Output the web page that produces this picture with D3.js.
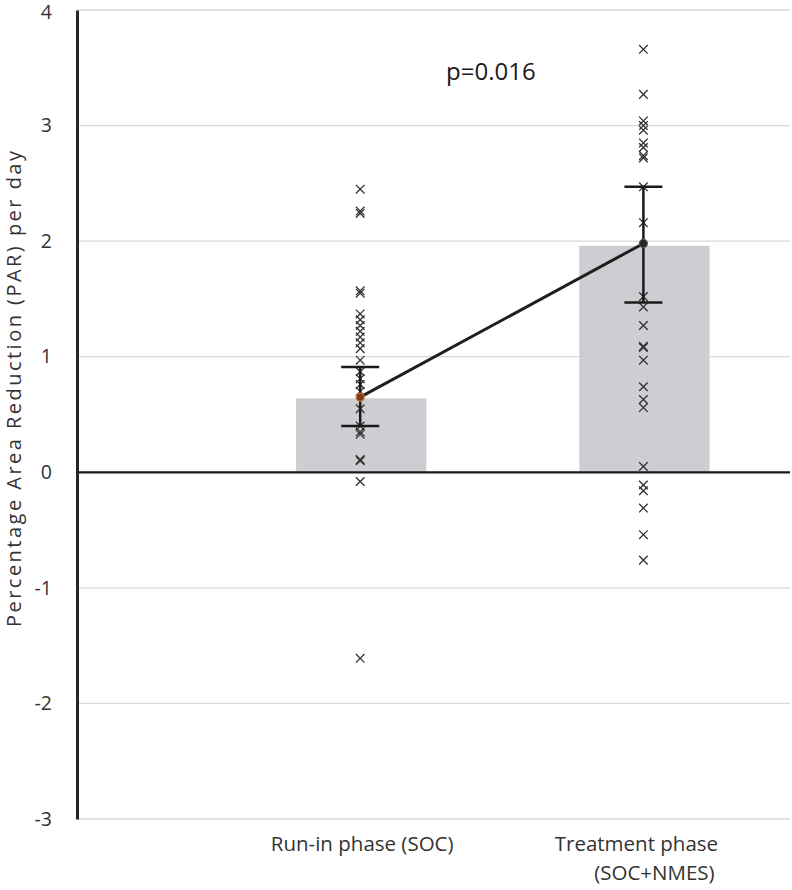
<!DOCTYPE html>
<html>
<head>
<meta charset="utf-8">
<script src="https://cdn.jsdelivr.net/npm/d3@7"></script>
<style>
  html, body { margin: 0; padding: 0; background: #fff; }
  svg { display: block; font-family: "Open Sans", "Noto Sans", sans-serif; }
</style>
</head>
<body>
<svg id="chart" width="792" height="890"></svg>
<script>
// ---- data ----
const categories = ["Run-in phase (SOC)", "Treatment phase (SOC+NMES)"];
const categoryLines = [["Run-in phase (SOC)"], ["Treatment phase", "(SOC+NMES)"]];
const barValues = [0.64, 1.96];
const meanValues = [0.65, 1.98];
const errUpper = [0.91, 2.47];
const errLower = [0.40, 1.47];
const runInPoints = [2.45, 2.26, 2.24, 1.57, 1.55, 1.37, 1.32, 1.27, 1.22, 1.17, 1.12, 1.07, 0.97,
  0.87, 0.81, 0.76, 0.70, 0.55, 0.40, 0.35, 0.33, 0.11, 0.10, -0.08, -1.61];
const treatmentPoints = [3.66, 3.27, 3.04, 3.00, 2.96, 2.85, 2.81, 2.74, 2.72, 2.47, 2.16, 1.52,
  1.43, 1.27, 1.09, 1.08, 0.97, 0.74, 0.63, 0.56, 0.05, -0.11, -0.16, -0.31, -0.54, -0.76];
const yTicks = [-3, -2, -1, 0, 1, 2, 3, 4];
const pLabel = "p=0.016";
const yTitle = "Percentage Area Reduction (PAR) per day";

// ---- scales ----
const svg = d3.select("#chart");
const mLeft = 77, mRight = 790, mTop = 10, mBottom = 819;
const y = d3.scaleLinear().domain([-3, 4]).range([mBottom, mTop]);
const x = d3.scaleLinear().domain([0, 2.5]).range([mLeft, 785]);
const catX = i => x(i + 1);
const barW = x(0.46) - x(0);

// gridlines
svg.append("g").selectAll("line").data(yTicks).join("line")
  .attr("x1", mLeft).attr("x2", mRight)
  .attr("y1", d => y(d)).attr("y2", d => y(d))
  .attr("stroke", "#d9d9d9").attr("stroke-width", 1.3);

// bars
svg.append("g").selectAll("rect").data(barValues).join("rect")
  .attr("x", (d, i) => catX(i) - barW / 2 + 1)
  .attr("width", barW)
  .attr("y", d => y(Math.max(0, d)))
  .attr("height", d => Math.abs(y(d) - y(0)))
  .attr("fill", "#cdced1");

// zero line
svg.append("line").attr("x1", mLeft).attr("x2", mRight)
  .attr("y1", y(0)).attr("y2", y(0))
  .attr("stroke", "#1a1a1a").attr("stroke-width", 2.2);

// y axis
const yAxis = d3.axisLeft(y).tickValues(yTicks).tickSize(0).tickPadding(25).tickFormat(d => String(d));
const ga = svg.append("g").attr("transform", `translate(${mLeft},0)`).call(yAxis);
ga.select(".domain").attr("stroke", "#262626").attr("stroke-width", 3);
ga.selectAll("text").attr("font-size", 19.5).attr("fill", "#333").attr("font-family", "\"Open Sans\", sans-serif");
ga.selectAll(".tick").filter(d => d === 4).select("text").attr("dy", "0.42em");

// scatter points (x markers)
const pointSets = [runInPoints, treatmentPoints];
const s = 4.3;
pointSets.forEach((pts, i) => {
  const g = svg.append("g").attr("stroke", "#333").attr("stroke-width", 1.3);
  g.selectAll("path").data(pts).join("path")
    .attr("d", d => {
      const cx = catX(i), cy = y(d);
      return `M${cx - s},${cy - s}L${cx + s},${cy + s}M${cx - s},${cy + s}L${cx + s},${cy - s}`;
    });
});

// error bars
const capW = 19;
meanValues.forEach((m, i) => {
  const cx = catX(i);
  const g = svg.append("g").attr("stroke", "#1a1a1a").attr("stroke-width", 2.5);
  g.append("line").attr("x1", cx).attr("x2", cx).attr("y1", y(errUpper[i])).attr("y2", y(errLower[i]));
  g.append("line").attr("x1", cx - capW).attr("x2", cx + capW).attr("y1", y(errUpper[i])).attr("y2", y(errUpper[i]));
  g.append("line").attr("x1", cx - capW).attr("x2", cx + capW).attr("y1", y(errLower[i])).attr("y2", y(errLower[i]));
});

// mean line
const line = d3.line().x((d, i) => catX(i)).y(d => y(d));
svg.append("path").datum(meanValues).attr("d", line)
  .attr("fill", "none").attr("stroke", "#1f1f1f").attr("stroke-width", 3);

const pointColors = ["#7a3b1c", "#262626"];
const pointStroke = ["#d0763f", "#555"];
svg.append("g").selectAll("circle").data(meanValues).join("circle")
  .attr("cx", (d, i) => catX(i)).attr("cy", d => y(d)).attr("r", 4)
  .attr("fill", (d, i) => pointColors[i]).attr("stroke", (d, i) => pointStroke[i]).attr("stroke-width", 1.2);

// category labels
const labelOffsets = [[2], [-7, 11]];
categoryLines.forEach((lines, i) => {
  const t = svg.append("text").attr("text-anchor", "middle")
    .attr("font-size", 20.5).attr("fill", "#333");
  lines.forEach((ln, j) => {
    t.append("tspan").attr("x", catX(i) + labelOffsets[i][j]).attr("y", 851 + j * 29).text(ln);
  });
});

// p label
svg.append("text").attr("x", 446).attr("y", 80).attr("font-size", 24).attr("fill", "#1a1a1a").text(pLabel);

// y title
svg.append("text")
  .attr("transform", `translate(21,${(150 + 628) / 2}) rotate(-90)`)
  .attr("text-anchor", "middle").attr("font-size", 20).attr("fill", "#333")
  .attr("textLength", 476).attr("lengthAdjust", "spacing")
  .text(yTitle);
</script>
</body>
</html>
